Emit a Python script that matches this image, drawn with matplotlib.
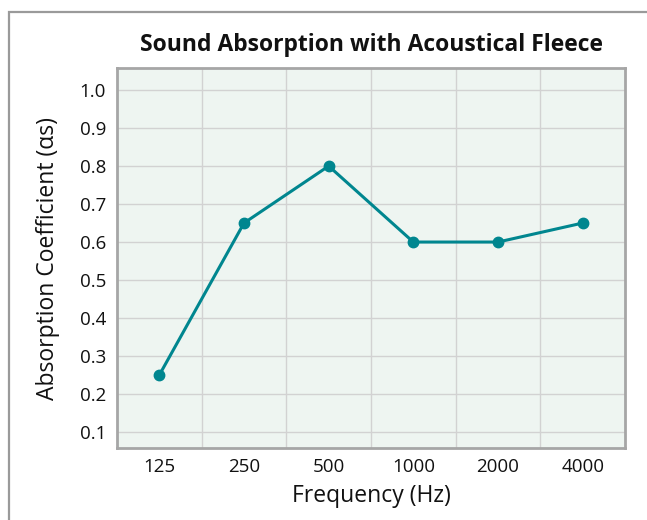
import matplotlib.pyplot as plt
from matplotlib.patches import Rectangle

frecuencias = ["125", "250", "500", "1000", "2000", "4000"]
absorcion = [0.25, 0.65, 0.80, 0.60, 0.60, 0.65]
yticks = [0.1, 0.2, 0.3, 0.4, 0.5, 0.6, 0.7, 0.8, 0.9, 1.0]

plt.rcParams['font.family'] = ['Open Sans', 'DejaVu Sans']

fig = plt.figure(figsize=(6.47, 5.2), dpi=100)
fig.patch.set_facecolor('white')

# marco gris de la figura (sale por la derecha y abajo)
fig.patches.append(Rectangle((9 / 647, -0.1), 1.2, 1.1 - 12 / 520,
                             transform=fig.transFigure, fill=False,
                             edgecolor='#9a9a9a', linewidth=1.6))

ax = fig.add_axes([117 / 647, 1 - 448 / 520, 508 / 647, 380 / 520])
ax.set_facecolor('#eef5f1')

x = list(range(len(frecuencias)))
ax.plot(x, absorcion, color='#00868f', linewidth=2.2, marker='o', markersize=7.5, zorder=3)

ax.set_xlim(-0.5, 5.5)
ax.set_ylim(0.058, 1.058)
ax.set_xticks(x)
ax.set_xticklabels(frecuencias)
ax.set_xticks([i + 0.5 for i in range(5)], minor=True)
ax.set_yticks(yticks)
ax.set_yticklabels([f"{v:.1f}" for v in yticks])

ax.grid(True, which='minor', axis='x', color='#d2d2d2', linewidth=1)
ax.grid(True, which='major', axis='y', color='#d2d2d2', linewidth=1)
ax.tick_params(which='both', length=0, labelsize=13.5, colors='#111111', pad=7)
ax.tick_params(axis='y', pad=8)

for s in ax.spines.values():
    s.set_color('#a6a6a6')
    s.set_linewidth(2)

ax.set_title("Sound Absorption with Acoustical Fleece", fontsize=16.5,
             fontweight='bold', color='#111111', pad=12)
ax.set_xlabel("Frequency (Hz)", fontsize=16.5, color='#111111', labelpad=6)
ax.set_ylabel("Absorption Coefficient (αs)", fontsize=16.5, color='#111111', labelpad=14)

plt.savefig("out.png", dpi=100)
